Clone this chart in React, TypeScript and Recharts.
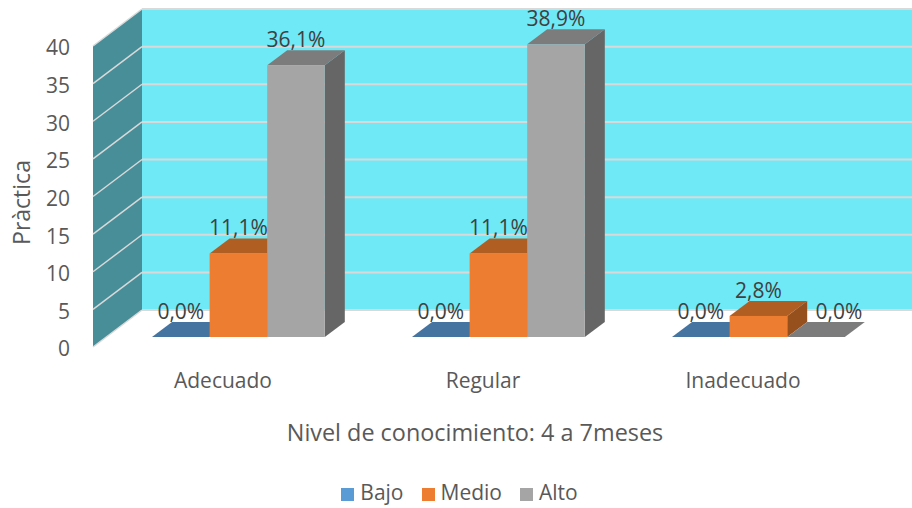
import React from "react";
import { BarChart, Bar, XAxis, YAxis, Legend, LabelList, usePlotArea } from "recharts";

const niveles = ["Adecuado", "Regular", "Inadecuado"];
const bajo = [0, 0, 0];
const medio = [11.1, 11.1, 2.8];
const alto = [36.1, 38.9, 0];
const yTicks = [0, 5, 10, 15, 20, 25, 30, 35, 40];
const yMax = 40;

const data = niveles.map((nivel, i) => ({
    nivel,
    Bajo: bajo[i],
    Medio: medio[i],
    Alto: alto[i],
}));

// fake 3D: how far the box/room recedes
const WALL_DX = 49;
const WALL_DY = 37;
const BAR_DX = 20;
const BAR_DY = 15;
// bars stand on the floor, a bit behind the front edge
const FLOOR_DX = 15;
const FLOOR_DY = 10;

const TEXT_FONT = "'Open Sans', sans-serif";

const Walls = () => {
    const plot = usePlotArea();
    if (!plot) return null;
    const { x, y, width, height } = plot;
    const bottom = y + height;
    const lineColor = "#D9D9D9";
    return (
        <g>
            <rect
                x={x + WALL_DX}
                y={y - WALL_DY}
                width={width}
                height={height}
                fill="#6FE9F6"
            />
            <polygon
                points={`${x},${y} ${x + WALL_DX},${y - WALL_DY} ${x + WALL_DX},${bottom - WALL_DY} ${x},${bottom}`}
                fill="#478E99"
            />
            {yTicks.map((t) => {
                const ty = bottom - (t / yMax) * height;
                return (
                    <g key={t}>
                        <line
                            x1={x}
                            y1={ty}
                            x2={x + WALL_DX}
                            y2={ty - WALL_DY}
                            stroke={lineColor}
                            strokeWidth={1.5}
                        />
                        <line
                            x1={x + WALL_DX}
                            y1={ty - WALL_DY}
                            x2={x + WALL_DX + width}
                            y2={ty - WALL_DY}
                            stroke={lineColor}
                            strokeWidth={2}
                        />
                    </g>
                );
            })}
        </g>
    );
};

const box = (front: string, top: string, side: string) => (props: any) => {
    const x = props.x + FLOOR_DX;
    const y = props.y - FLOOR_DY;
    const w = props.width;
    const h = props.height;
    return (
        <g>
            <polygon
                points={`${x + w},${y} ${x + w + BAR_DX},${y - BAR_DY} ${x + w + BAR_DX},${y + h - BAR_DY} ${x + w},${y + h}`}
                fill={side}
            />
            <polygon
                points={`${x},${y} ${x + BAR_DX},${y - BAR_DY} ${x + w + BAR_DX},${y - BAR_DY} ${x + w},${y}`}
                fill={top}
            />
            <rect x={x} y={y} width={w} height={h} fill={front} />
        </g>
    );
};

const percentLabel = (nudge: number) => (props: any) => {
    const { x, y, width, value } = props;
    // the empty "Alto" bar keeps its label clear of the orange one next to it
    const shift = value === 0 ? nudge : 0;
    return (
        <text
            x={x + FLOOR_DX + width / 2 + shift}
            y={y - FLOOR_DY - 18}
            textAnchor="middle"
            fontFamily={TEXT_FONT}
            fontSize={21}
            fill="#404040"
        >
            {value.toFixed(1).replace(".", ",") + "%"}
        </text>
    );
};

export default function App() {
    return (
        <div style={{ position: "absolute", left: 0, top: 0, width: 912, height: 508, background: "#fff" }}>
            <BarChart
                width={912}
                height={508}
                data={data}
                margin={{ top: 46, right: 39, bottom: 0, left: 0 }}
                barSize={57.6}
                barGap={0}
                style={{ overflow: "hidden" }}
            >
                <Walls />
                <XAxis
                    dataKey="nivel"
                    height={161}
                    axisLine={false}
                    tickLine={false}
                    tickMargin={20}
                    tick={{ fontFamily: TEXT_FONT, fontSize: 21, fill: "#595959" }}
                    label={{
                        value: "Nivel de conocimiento: 4 a 7meses",
                        position: "insideTop",
                        offset: 77,
                        dx: -8,
                        style: { fontFamily: TEXT_FONT, fontSize: 23.4, fill: "#595959" },
                    }}
                />
                <YAxis
                    width={93}
                    domain={[0, yMax]}
                    ticks={yTicks}
                    interval={0}
                    axisLine={false}
                    tickLine={false}
                    tickMargin={17}
                    tick={{ fontFamily: TEXT_FONT, fontSize: 21, fill: "#595959", dy: 2 }}
                    label={{
                        value: "Pràctica",
                        angle: -90,
                        position: "insideLeft",
                        offset: 22,
                        dy: 6,
                        style: { fontFamily: TEXT_FONT, fontSize: 23, fill: "#595959", textAnchor: "middle" },
                    }}
                />
                <Legend
                    layout="horizontal"
                    verticalAlign="middle"
                    align="center"
                    iconType="square"
                    iconSize={13}
                    itemSorter={null}
                    wrapperStyle={{ top: 478, left: 0, width: 937, fontFamily: TEXT_FONT, fontSize: 21 }}
                    formatter={(value: string) => (
                        <span style={{ color: "#595959", marginLeft: 2, marginRight: 8 }}>{value}</span>
                    )}
                />
                <Bar dataKey="Bajo" fill="#5B9BD5" isAnimationActive={false} shape={box("#5B9BD5", "#44749F", "#3A6A94")}>
                    <LabelList dataKey="Bajo" content={percentLabel(0)} />
                </Bar>
                <Bar dataKey="Medio" fill="#ED7D31" isAnimationActive={false} shape={box("#ED7D31", "#B15E22", "#96501E")}>
                    <LabelList dataKey="Medio" content={percentLabel(0)} />
                </Bar>
                <Bar dataKey="Alto" fill="#A5A5A5" isAnimationActive={false} shape={box("#A5A5A5", "#7C7C7C", "#666666")}>
                    <LabelList dataKey="Alto" content={percentLabel(23)} />
                </Bar>
            </BarChart>
        </div>
    );
}
